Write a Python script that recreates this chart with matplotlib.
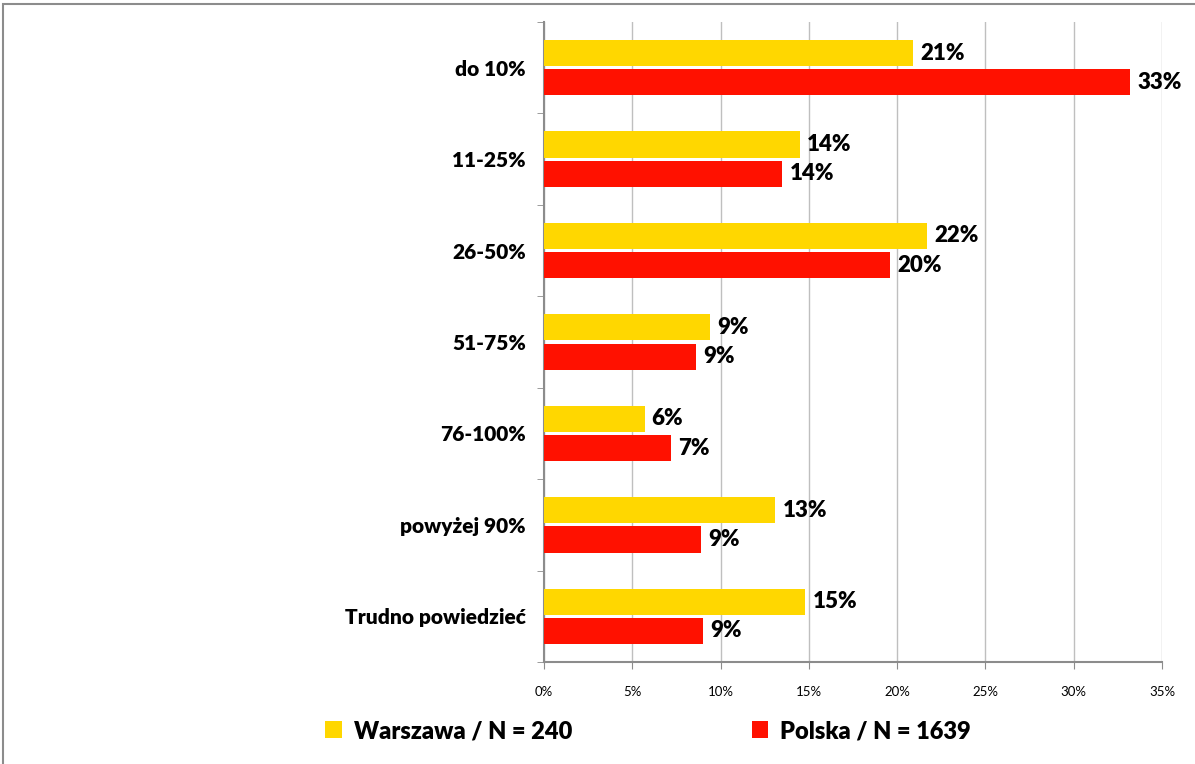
import matplotlib.pyplot as plt
import numpy as np
from matplotlib.patches import Rectangle

plt.rcParams['font.family'] = ['Lato', 'DejaVu Sans']

kategorie = ["do 10%", "11-25%", "26-50%", "51-75%", "76-100%", "powyżej 90%", "Trudno powiedzieć"]
warszawa = [20.9, 14.5, 21.7, 9.4, 5.7, 13.1, 14.8]
polska = [33.2, 13.5, 19.6, 8.6, 7.2, 8.9, 9.0]
etykiety_w = ["21%", "14%", "22%", "9%", "6%", "13%", "15%"]
etykiety_p = ["33%", "14%", "20%", "9%", "7%", "9%", "9%"]
legenda = ["Warszawa / N = 240", "Polska / N = 1639"]

zolty = "#FFD700"
czerwony = "#FF1100"

fig = plt.figure(figsize=(11.95, 7.64), dpi=100)
W, H = 1195, 764

# ramka wykresu (obcięta z prawej i z dołu)
fig.patches.append(Rectangle((3 / W, -0.05), 1.2, 1 - 4 / H + 0.05, transform=fig.transFigure,
                             fill=False, edgecolor="#8c8c8c", linewidth=1.5))

ax = fig.add_axes([544 / W, 1 - 662 / H, (1162 - 544) / W, (662 - 22) / H])

y = np.arange(len(kategorie))
h = 0.285
ax.barh(y - 0.16, warszawa, height=h, color=zolty, label=legenda[0], zorder=3)
ax.barh(y + 0.16, polska, height=h, color=czerwony, label=legenda[1], zorder=3)

for i in range(len(kategorie)):
    ax.text(warszawa[i] + 0.4, y[i] - 0.16, etykiety_w[i], va="center", ha="left",
            fontsize=16, fontweight="heavy")
    ax.text(polska[i] + 0.4, y[i] + 0.16, etykiety_p[i], va="center", ha="left",
            fontsize=16, fontweight="heavy")

ax.set_xlim(0, 35)
ax.set_ylim(len(kategorie) - 0.5, -0.5)
ax.set_xticks(np.arange(0, 36, 5))
ax.set_xticklabels([f"{v}%" for v in range(0, 36, 5)], fontsize=9.5)
ax.set_yticks(y)
ax.set_yticklabels(kategorie)
for lab in ax.get_yticklabels():
    lab.set_fontsize(15)
    lab.set_fontweight("heavy")
ax.tick_params(axis="y", length=0, pad=13)
ax.set_yticks(np.arange(-0.5, len(kategorie)), minor=True)
ax.tick_params(axis="y", which="minor", length=5, color="#8c8c8c", direction="out")
ax.tick_params(axis="x", length=5, color="#8c8c8c", direction="out", pad=12)

ax.grid(axis="x", color="#bfbfbf", linewidth=1, zorder=0)
for s in ["top", "right"]:
    ax.spines[s].set_visible(False)
for s in ["left", "bottom"]:
    ax.spines[s].set_color("#8c8c8c")
    ax.spines[s].set_linewidth(1.5)

fig.legend(loc="center", bbox_to_anchor=(648 / W, 1 - 731 / H), ncol=2, frameon=False,
           prop={"size": 17, "weight": "heavy"}, handlelength=0.7, handleheight=0.7,
           handletextpad=0.5, columnspacing=7.6)

fig.savefig("out.png", dpi=100)
